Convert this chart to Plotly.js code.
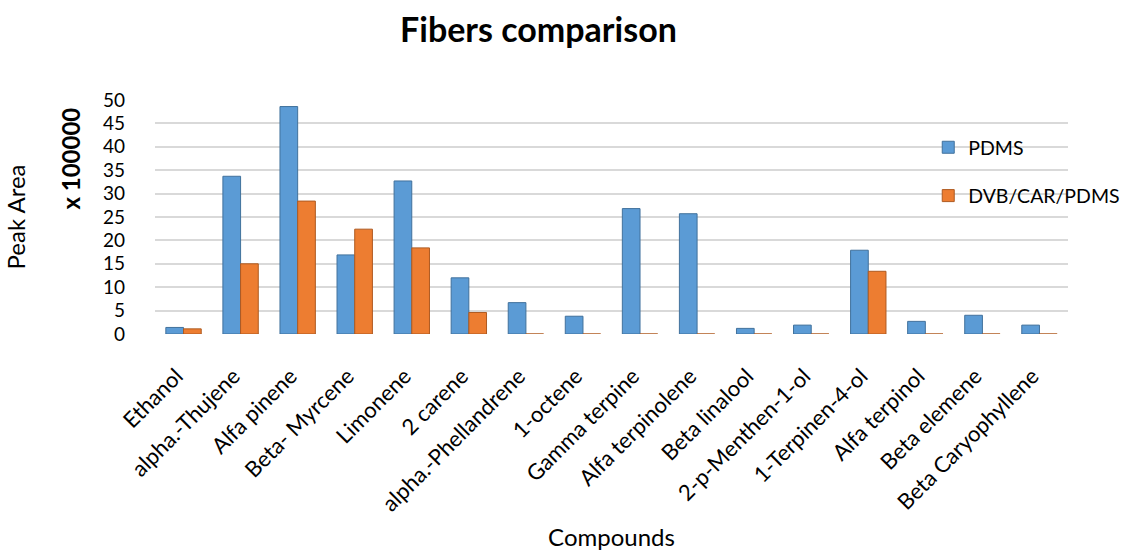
<!DOCTYPE html>
<html>
<head>
<meta charset="utf-8">
<script src="https://cdn.plot.ly/plotly-3.0.1.min.js"></script>
<style>html,body{margin:0;padding:0;background:#fff;}#chart{width:1136px;height:551px;}</style>
</head>
<body>
<div id="chart"></div>
<script>
const compounds = ["Ethanol", "alpha.-Thujene", "Alfa pinene", "Beta- Myrcene", "Limonene", "2 carene",
  "alpha.-Phellandrene", "1-octene", "Gamma terpine", "Alfa terpinolene", "Beta linalool",
  "2-p-Menthen-1-ol", "1-Terpinen-4-ol", "Alfa terpinol", "Beta elemene", "Beta Caryophyllene"];
const pdms = [1.4, 33.7, 48.6, 16.9, 32.7, 12.0, 6.7, 3.8, 26.8, 25.7, 1.2, 1.9, 17.9, 2.7, 4.0, 1.9];
const dvbCarPdms = [1.1, 15.0, 28.4, 22.4, 18.4, 4.6, 0, 0, 0, 0, 0, 0, 13.4, 0, 0, 0];
const yTicks = [0, 5, 10, 15, 20, 25, 30, 35, 40, 45, 50];

const font = "Lato, Open Sans, sans-serif";
const traces = [
  {type: "bar", name: "PDMS", x: compounds, y: pdms, legendgroup: "a",
   marker: {color: "#5B9BD5", line: {color: "#41719C", width: 1}}},
  {type: "bar", name: "DVB/CAR/PDMS", x: compounds, y: dvbCarPdms, legendgroup: "b",
   marker: {color: "#ED7D31", line: {color: "#AE5A21", width: 1}}}
];
const layout = {
  width: 1136, height: 551,
  margin: {l: 155, r: 67, t: 100, b: 217},
  paper_bgcolor: "#fff", plot_bgcolor: "#fff",
  font: {family: font, color: "#000", size: 20},
  title: {text: "<b>Fibers comparison</b>", x: 0.474, xanchor: "center", y: 0.945, yanchor: "middle",
          font: {size: 34, family: font, color: "#000"}},
  bargap: 0.38, bargroupgap: 0,
  barmode: "group",
  xaxis: {tickangle: -45, tickfont: {size: 22}, showgrid: false, zeroline: false, showline: false,
          ticks: "", ticklabelstandoff: 24, ticklabelshift: -7,
          title: {text: "Compounds", font: {size: 24}, standoff: 14}},
  yaxis: {range: [0, 50], tickvals: yTicks, ticktext: yTicks.map(String), showgrid: true,
          gridcolor: "#d9d9d9", gridwidth: 2, zeroline: false, showline: false, ticks: "",
          tickfont: {size: 19}, ticklabelstandoff: 29,
          title: {text: "Peak Area", font: {size: 24}, standoff: 70}},
  legend: {x: 0.846, y: 0.88, xanchor: "left", yanchor: "top", font: {size: 19.5},
           tracegroupgap: 20, bgcolor: "rgba(0,0,0,0)", borderwidth: 0},
  annotations: [
    {text: "<b>x 100000</b>", xref: "paper", yref: "paper", x: -0.093, y: 0.75, xanchor: "center",
     yanchor: "middle", textangle: -90, showarrow: false, font: {size: 24, family: font}}
  ]
};
Plotly.newPlot("chart", traces, layout, {displayModeBar: false});
</script>
</body>
</html>
